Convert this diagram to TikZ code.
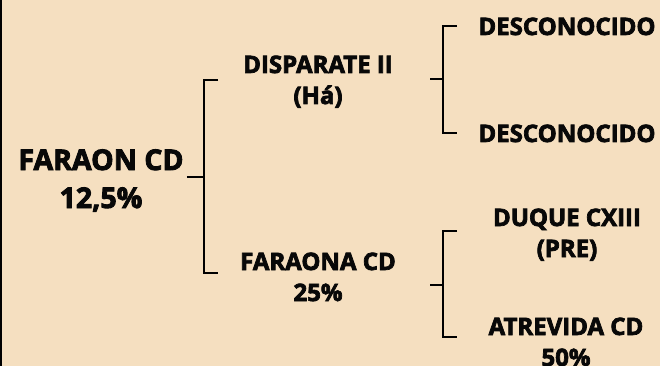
\documentclass[tikz,border=0pt]{standalone}
\usepackage{fontspec}
\setmainfont{Open Sans}[BoldFeatures={FakeBold=3}]
\definecolor{bgc}{RGB}{245,223,192}
\definecolor{txt}{RGB}{8,8,8}
\newcommand{\bigf}{\fontsize{28.5}{38}\selectfont\bfseries}
\newcommand{\smf}{\fontsize{24}{31}\selectfont\bfseries}
\newcommand{\twol}[2]{\begin{tabular}[t]{@{}c@{}}#1\\#2\end{tabular}}
\tikzset{
  lbl/.style={anchor=base, inner ysep=0pt, inner xsep=3pt, text=txt},
  br/.style={draw=black, line width=2.6pt},
}
\begin{document}
\begin{tikzpicture}[x=1pt,y=-1pt]
\useasboundingbox (0,0) rectangle (660,366);
\fill[bgc] (0,0) rectangle (660,366);
\fill[black] (0,0) rectangle (2,366);
\begin{scope}
\clip (0,0) rectangle (660,366);
% nodes
\node[lbl] (faraon) at (101,170) {\bigf\twol{FARAON CD}{12,5\%}};
\node[lbl] (disparate) at (318,73) {\smf\twol{DISPARATE II}{(Há)}};
\node[lbl] (faraona) at (318,270) {\smf\twol{FARAONA CD}{25\%}};
\node[lbl] (desc1) at (567,35) {\smf DESCONOCIDO};
\node[lbl] (desc2) at (567,142) {\smf DESCONOCIDO};
\node[lbl] (duque) at (567,226) {\smf\twol{DUQUE CXIII}{(PRE)}};
\node[lbl] (atrevida) at (566,335) {\smf\twol{ATREVIDA CD}{50\%}};
\end{scope}
% bracket 1
\coordinate (j1) at (204,177);
\coordinate (t1) at (218,80);
\coordinate (t2) at (218,273);
\draw[br] (j1 -| faraon.east) -- (j1);
\draw[br] (t1) -| (j1) |- (t2);
% bracket 2
\coordinate (s2) at (430,79);
\coordinate (j2) at (443,79);
\coordinate (u1) at (457,26);
\coordinate (u2) at (457,133);
\draw[br] (s2) -- (j2);
\draw[br] (u1) -| (j2) |- (u2);
% bracket 3
\coordinate (s3) at (430,285);
\coordinate (j3) at (443,285);
\coordinate (v1) at (457,231);
\coordinate (v2) at (457,337);
\draw[br] (s3) -- (j3);
\draw[br] (v1) -| (j3) |- (v2);
\end{tikzpicture}
\end{document}
